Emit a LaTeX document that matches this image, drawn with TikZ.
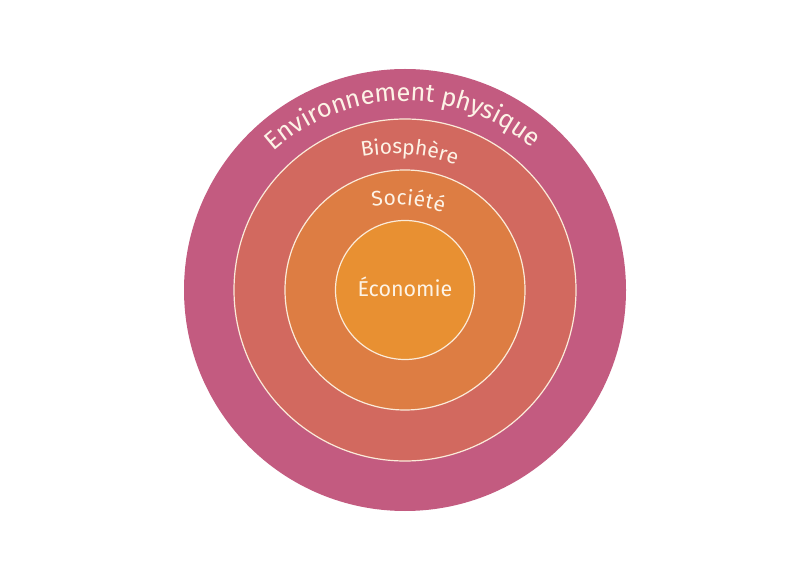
\documentclass[tikz,border=0pt]{standalone}
\usepackage{fontspec}
\setmainfont{Fira Sans}
\usetikzlibrary{decorations.text}

\begin{document}
\begin{tikzpicture}
	[x=1pt,y=1pt,line cap=round,
	%Styles
	ring/.style={circle,inner sep=0pt,minimum size=#1},
	rim/.style={draw=rimcolor,line width=1.2pt},
	centre text/.style={text=lettercolor,font=\fontsize{21.5}{24}\selectfont,anchor=base},
	arc text/.style 2 args={decorate,decoration={text effects along path,text={#2},
		text effects/.cd,text along path,fit text to path,
		characters={text=lettercolor,font=\fontsize{#1}{#1}\selectfont}}}
	]
	
	%Colors
	\definecolor{envcolor}{HTML}{C35B80}
	\definecolor{biocolor}{HTML}{D2695F}
	\definecolor{sociocolor}{HTML}{DD7D43}
	\definecolor{ecocolor}{HTML}{E89032}
	\definecolor{rimcolor}{HTML}{FBEBD9}
	\definecolor{lettercolor}{HTML}{FDF3E6}
	
	%The graphic
	\fill[white] (0,0) rectangle (810,581);
	\useasboundingbox (0,0) rectangle (810,581);
	
	\node[ring=442,fill=envcolor] (env) at (405,291) {};
	\node[ring=342,fill=biocolor,rim] (bio) at (env.center) {};
	\node[ring=240,fill=sociocolor,rim] (socio) at (env.center) {};
	\node[ring=139,fill=ecocolor,rim] (eco) at (env.center) {};
	
	\coordinate (envarc) at (405,284);
	\coordinate (bioarc) at (395,247);
	\coordinate (socioarc) at (395,226);
	
	\path[arc text={25.5}{Environnement physique}] (envarc) ++(132:196) arc[start angle=132,end angle=49.5,radius=196];
	\path[arc text={21}{Biosphère}] (bioarc) ++(100.6:180) arc[start angle=100.6,end angle=70.2,radius=180];
	\path[arc text={21}{Société}] (socioarc) ++(98.8:150) arc[start angle=98.8,end angle=71.3,radius=150];
	
	\node[centre text] (ecotext) at (405,284.3) {Économie};
\end{tikzpicture}
\end{document}
